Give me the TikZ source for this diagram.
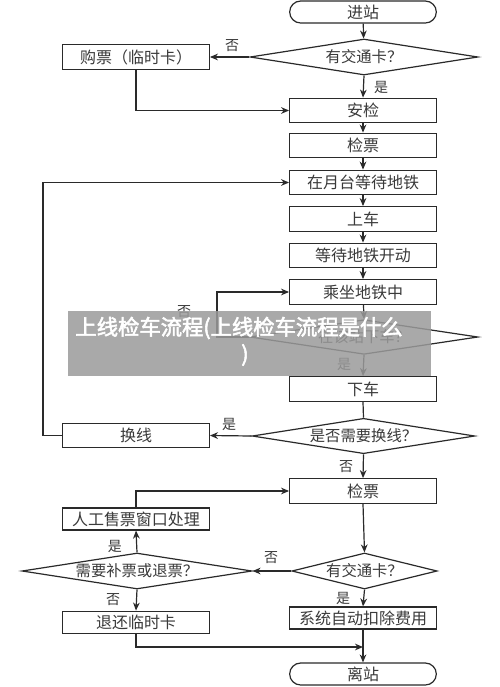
\documentclass[tikz,border=0pt]{standalone}
\usepackage{fontspec}
\setmainfont{Noto Sans CJK SC}
\newfontfamily\cjkbold{Noto Sans CJK SC}[FakeBold=2.5]
\usetikzlibrary{shapes.geometric,shapes.misc,arrows.meta}
\definecolor{ink}{HTML}{2A2A2A}
\definecolor{txt}{HTML}{3A3A3A}
\definecolor{banner}{HTML}{9A9A9A}
\tikzset{
  box/.style={draw=ink, line width=0.9pt, rectangle, minimum width=110pt, minimum height=18.5pt, inner sep=0pt, font=\fontsize{12}{12}\selectfont, text=txt},
  term/.style={draw=ink, line width=0.9pt, rounded rectangle, minimum width=110pt, minimum height=16.5pt, inner sep=0pt, font=\fontsize{12}{12}\selectfont, text=txt},
  dia/.style={draw=ink, line width=0.9pt, diamond, inner sep=0pt, font=\fontsize{11.5}{11.5}\selectfont, text=txt},
  lbl/.style={font=\fontsize{10.5}{10.5}\selectfont, text=txt, inner sep=0pt},
  arr/.style={draw=ink, line width=0.9pt, -{Stealth[length=6pt,width=5pt]}},
  ln/.style={draw=ink, line width=0.9pt},
  wm/.style={text=white, font=\fontsize{16}{20}\cjkbold, inner sep=0pt},
}
\begin{document}
\begin{tikzpicture}[x=0.75pt,y=-0.75pt]
\useasboundingbox (0,0) rectangle (500,687);
\fill[white] (0,0) rectangle (500,687);
% main column
\node[term] (jz) at (363,12) {进站};
\node[dia, minimum width=171pt, minimum height=27pt, aspect=6.3] (d1) at (364,57) {有交通卡？};
\node[box] (gp) at (136,57) {购票（临时卡）};
\node[box] (aj) at (363,110.5) {安检};
\node[box] (jp1) at (363,145.5) {检票};
\node[box] (ytd) at (363,182.5) {在月台等待地铁};
\node[box] (sc) at (363,219) {上车};
\node[box] (dd) at (363,255.5) {等待地铁开动};
\node[box] (cz) at (363,292) {乘坐地铁中};
\node[dia, minimum width=171pt, minimum height=26pt, aspect=6.5] (d2) at (364,337) {在该站下车？};
\node[box] (xc) at (363,389) {下车};
\node[dia, minimum width=167pt, minimum height=26.5pt, aspect=6.3] (d3) at (363.5,436) {是否需要换线？};
\node[box] (hx) at (136,435.5) {换线};
\node[box] (jp2) at (363,491) {检票};
\node[box, minimum height=16.5pt] (rg) at (136,519) {人工售票窗口处理};
\node[dia, minimum width=172.5pt, minimum height=27pt, aspect=6.4] (d5) at (137,571) {需要补票或退票？};
\node[dia, minimum width=109pt, minimum height=27pt, aspect=4] (d4) at (364.5,571) {有交通卡？};
\node[box, minimum height=16.5pt] (xt) at (363,618) {系统自动扣除费用};
\node[box, minimum height=17pt] (th) at (136,622.5) {退还临时卡};
\node[term] (lz) at (363,674) {离站};
% connectors
\draw[arr] (jz) -- (d1);
\draw[arr] (d1.west) -- (gp.east);
\draw[arr] (d1.south) -- (aj.north);
\draw[arr] (gp.south) |- (aj.west);
\draw[arr] (aj) -- (jp1);
\draw[arr] (jp1) -- (ytd);
\draw[arr] (ytd) -- (sc);
\draw[arr] (sc) -- (dd);
\draw[arr] (dd) -- (cz);
\draw[arr] (cz) -- (d2.north);
\coordinate (lp) at (217,337);
\draw[arr] (d2.west) -- (lp) |- (cz.west);
\draw[arr] (d2.south) -- (xc.north);
\draw[ln] (xc.south) -- (d3.north);
\draw[arr] (d3.west) -- (hx.east);
\coordinate (lq) at (43,435.5);
\draw[arr] (hx.west) -- (lq) |- (ytd.west);
\draw[arr] (d3.south) -- (jp2.north);
\draw[arr] (jp2.south) -- (d4.north);
\draw[arr] (d4.west) -- (d5.east);
\draw[arr] (d5.north) -- (rg.south);
\draw[arr] (rg.north) |- (jp2.west);
\draw[arr] (d5.south) -- (th.north);
\draw[arr] (d4.south) -- (xt.north);
\draw[arr] (xt.south) -- (lz.north);
\coordinate (mj) at (363,647);
\draw[arr] (th.south) |- (mj);
% labels
\node[lbl] (l1) at (232,46) {否};
\node[lbl] (l2) at (381,87) {是};
\node[lbl] (l3) at (184,312) {否};
\node[lbl] (l4) at (344,364) {是};
\node[lbl] (l5) at (229,424) {是};
\node[lbl] (l6) at (346,467) {否};
\node[lbl] (l7) at (115,546) {是};
\node[lbl] (l8) at (271,558) {否};
\node[lbl] (l9) at (343,598) {是};
\node[lbl] (l10) at (113,600) {否};
% watermark banner
\fill[banner, opacity=0.85] (68,311) rectangle (431,376);
\node[wm] (wm1) at (239,328) {上线检车流程(上线检车流程是什么};
\node[wm] (wm2) at (245,355) {)};
\end{tikzpicture}
\end{document}
